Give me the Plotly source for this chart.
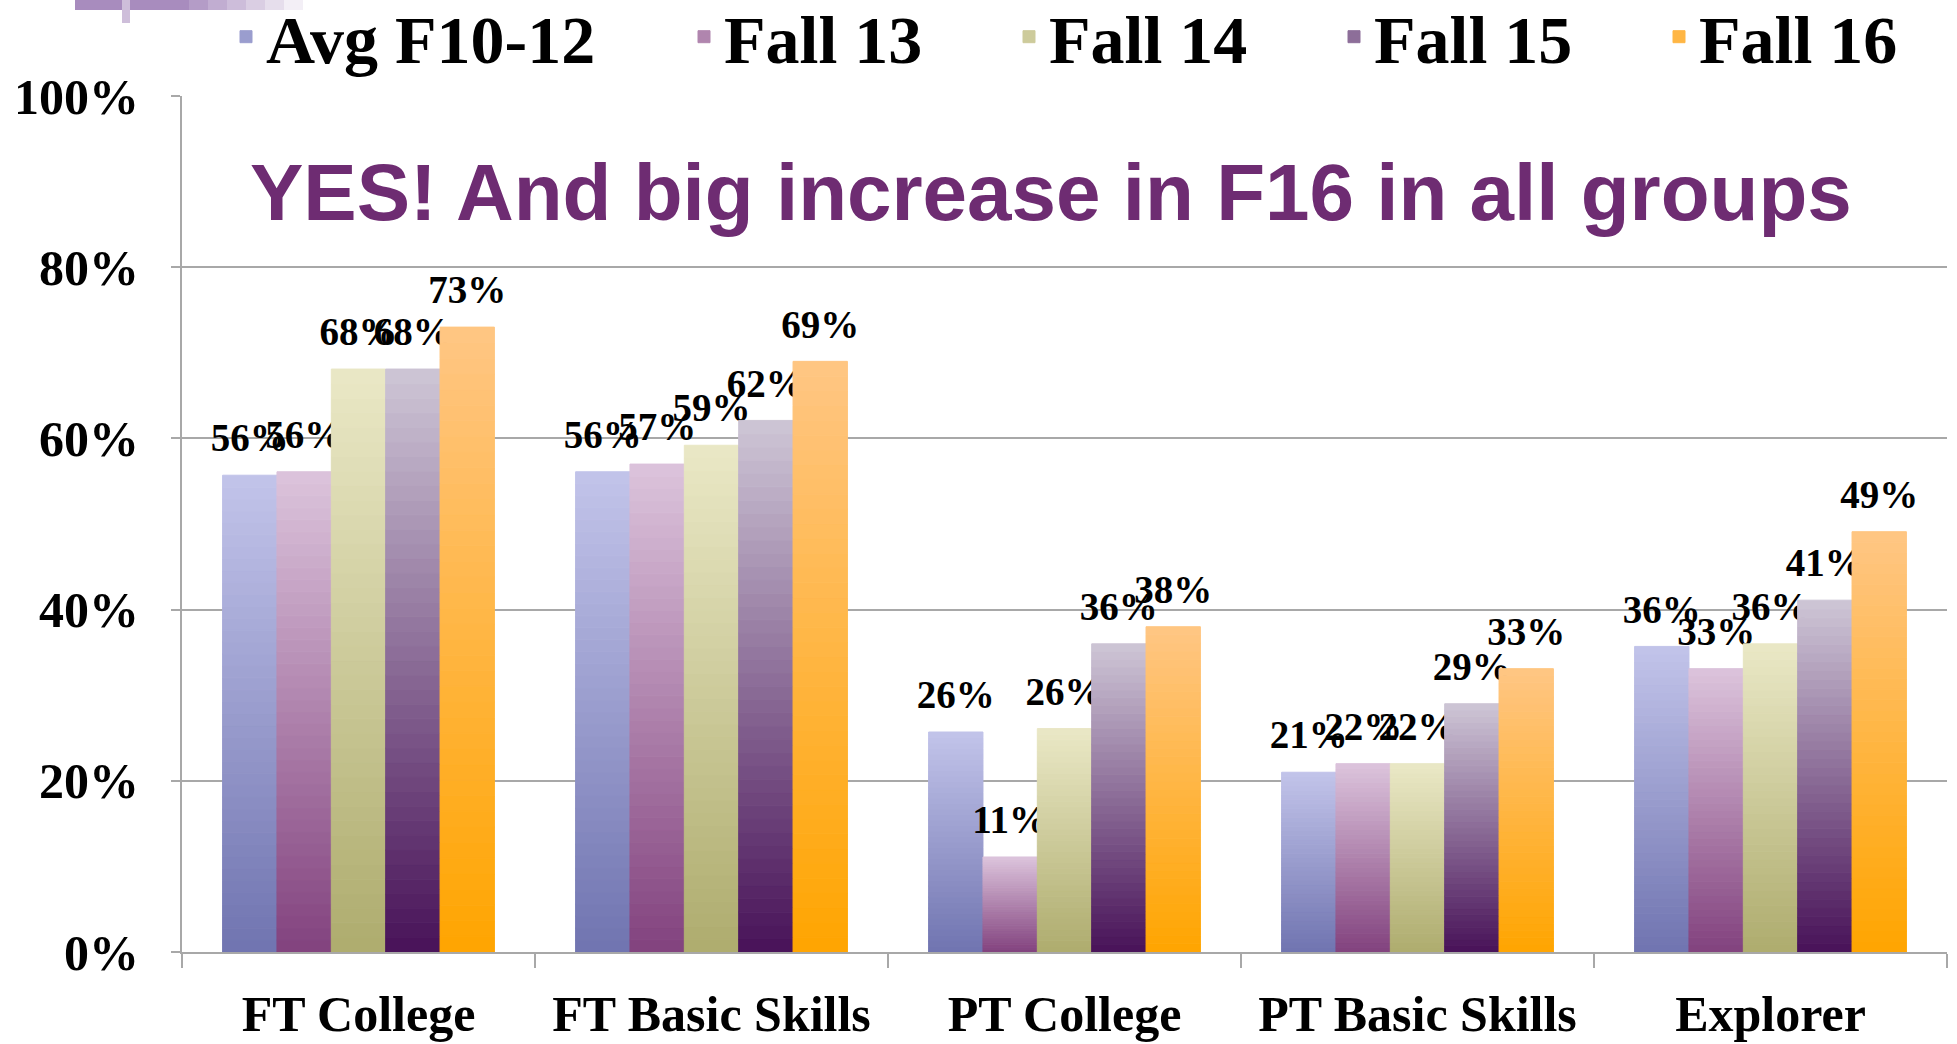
import plotly.graph_objects as go

# ---------------- data ----------------
categories = ["FT College", "FT Basic Skills", "PT College", "PT Basic Skills", "Explorer"]
series_names = ["Avg F10-12", "Fall 13", "Fall 14", "Fall 15", "Fall 16"]
avg_f10_12 = [0.557, 0.561, 0.257, 0.210, 0.357]
fall_13 = [0.561, 0.570, 0.111, 0.220, 0.331]
fall_14 = [0.681, 0.592, 0.261, 0.220, 0.360]
fall_15 = [0.681, 0.621, 0.360, 0.290, 0.411]
fall_16 = [0.730, 0.690, 0.380, 0.331, 0.491]
series_values = [avg_f10_12, fall_13, fall_14, fall_15, fall_16]
y_tick_values = [0, 0.2, 0.4, 0.6, 0.8, 1.0]
title_text = "YES! And big increase in F16 in all groups"

# ---------------- styling ----------------
BODY = 0  # page body margin is removed by the post script
W, H = 1957, 1044
ML, MR, MT, MB = 182, 10, 96, 92
PW, PH = W - ML - MR, H - MT - MB

# (top colour, bottom colour) for the vertical gradient of each series
grad = [
    ((194, 196, 234), (112, 116, 176)),
    ((220, 196, 220), (130, 66, 126)),
    ((234, 232, 198), (174, 172, 110)),
    ((206, 198, 214), (72, 18, 88)),
    ((255, 198, 132), (255, 165, 0)),
]
N = 40
SERIF = "Liberation Serif, Times New Roman, serif"


def mix(c1, c2, t):
    return "rgb(%d,%d,%d)" % tuple(round(a + (b - a) * t) for a, b in zip(c1, c2))


fig = go.Figure()
for i, (name, vals) in enumerate(zip(series_names, series_values)):
    top, bot = grad[i]
    legend_id = "legend" if i == 0 else "legend2"
    for k in range(N):
        t = (k + 0.5) / N  # 0 bottom -> 1 top
        col = mix(bot, top, t)
        fig.add_trace(go.Bar(
            x=categories,
            y=[v / N for v in vals],
            base=[v * k / N for v in vals],
            name=name,
            offsetgroup=str(i),
            legendgroup=name,
            legend=legend_id,
            showlegend=(k == N // 2),
            marker=dict(color=col, line=dict(width=1, color=col)),
            hoverinfo="skip",
        ))
    # label carrier (transparent) sitting on top of the bar
    fig.add_trace(go.Bar(
        x=categories,
        y=[0.015] * len(vals),
        base=vals,
        offsetgroup=str(i),
        legendgroup=name,
        showlegend=False,
        marker=dict(color="rgba(0,0,0,0)", line=dict(width=0)),
        text=["%d%%" % round(v * 100) for v in vals],
        textposition="outside",
        constraintext="none",
        cliponaxis=False,
        textfont=dict(family=SERIF, size=39, color="black", weight="bold"),
        hoverinfo="skip",
    ))


def px_x(px):  # page pixel -> paper x
    return (px - BODY - ML) / PW


def px_y(py):  # page pixel -> paper y
    return (BODY + H - MB - py) / PH


shapes = []
# slide decoration top-left
for j in range(12):
    x0 = 75 + j * 19
    shapes.append(dict(type="rect", xref="paper", yref="paper",
                       x0=px_x(x0), x1=px_x(x0 + 19), y0=px_y(10), y1=px_y(0),
                       fillcolor=mix((168, 140, 190), (255, 255, 255), max(0, (j - 5) / 7)),
                       line=dict(width=0), layer="above"))
shapes.append(dict(type="rect", xref="paper", yref="paper",
                   x0=px_x(122), x1=px_x(130), y0=px_y(23), y1=px_y(0),
                   fillcolor="rgb(206,190,218)", line=dict(width=0), layer="above"))

fig.update_layout(
    width=W, height=H,
    margin=dict(l=ML, r=MR, t=MT, b=MB, autoexpand=False),
    paper_bgcolor="white", plot_bgcolor="white",
    barmode="group", bargap=0.23, bargroupgap=0.0,
    font=dict(family=SERIF, color="black"),
    shapes=shapes,
    legend=dict(orientation="h", x=px_x(226), y=px_y(-14), xanchor="left", yanchor="top",
                font=dict(family=SERIF, size=68, weight="bold"), bgcolor="rgba(0,0,0,0)",
                traceorder="normal"),
    legend2=dict(orientation="h", x=px_x(684), y=px_y(-14), xanchor="left", yanchor="top",
                 font=dict(family=SERIF, size=68, weight="bold"), bgcolor="rgba(0,0,0,0)",
                 entrywidth=280, entrywidthmode="pixels", traceorder="normal"),
    annotations=[dict(
        text=title_text, xref="paper", yref="paper", x=px_x(1051), y=px_y(192),
        xanchor="center", yanchor="middle", showarrow=False,
        font=dict(family="Liberation Sans, Arial, sans-serif", size=80, weight="bold",
                  color="#6E2C72"),
    )],
)
fig.update_yaxes(
    range=[0, 1], tickvals=y_tick_values, tickformat=".0%",
    showgrid=True, gridcolor="#A8A8A8", gridwidth=2,
    showline=True, linecolor="#A8A8A8", linewidth=2,
    ticks="outside", ticklen=9, tickcolor="#A8A8A8", tickwidth=2,
    ticklabelstandoff=22,
    tickfont=dict(family=SERIF, size=50, weight="bold", color="black"),
    zeroline=False,
)
fig.update_xaxes(
    showline=True, linecolor="#A8A8A8", linewidth=2,
    ticks="outside", tickson="boundaries", ticklen=14, tickcolor="#A8A8A8", tickwidth=2,
    ticklabelstandoff=17,
    tickfont=dict(family=SERIF, size=50, weight="bold", color="black"),
)

fig.write_html(
    "out.html",
    config={"displayModeBar": False},
    post_script="document.body.style.margin='0';document.body.style.padding='0';",
)
